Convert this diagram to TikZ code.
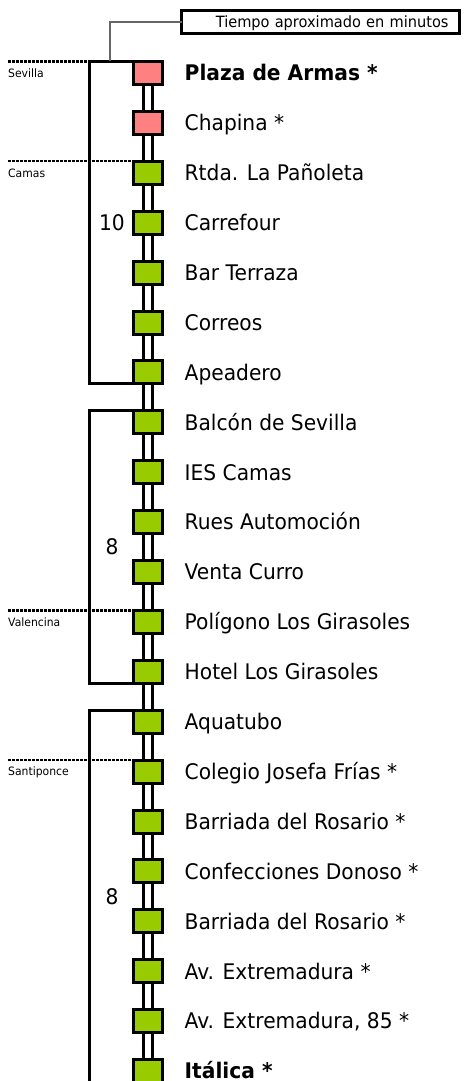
\documentclass[tikz,border=0pt]{standalone}
\usepackage{fontspec}
\setmainfont{DejaVu Sans}[FakeStretch=0.94]
\usepackage{tikz}
\usetikzlibrary{positioning}
\usetikzlibrary{backgrounds}
\definecolor{stopred}{HTML}{FF8080}
\definecolor{stopgreen}{HTML}{99CC00}

\begin{document}
\begin{tikzpicture}[x=1pt, y=-1pt,
        stopbox/.style={draw, line width=3pt, minimum width=29pt, minimum height=23pt, inner sep=0pt, outer sep=0pt},
        stopname/.style={font=\fontsize{21.5}{25}\selectfont, inner sep=0pt, text height=15.6pt, text depth=0pt},
        town/.style={font=\fontsize{11.5}{14}\selectfont, inner sep=0pt, text height=8.4pt, text depth=0pt, anchor=west},
        minutes/.style={font=\fontsize{21.5}{25}\selectfont, inner sep=0pt, text height=15.6pt, text depth=0pt},
        track/.style={line width=3pt, double=white, double distance=5.5pt},
        bracket/.style={line width=3pt},
        border/.style={line width=2.2pt, dash pattern=on 2.6pt off 1.4pt},
        leader/.style={line width=1.2pt, black!60}]

    \useasboundingbox (0,0) rectangle (463,1081);

    % Stops
    \foreach \stop [count=\i from 0] in {\textbf{Plaza de Armas *}, Chapina *, Rtda. La Pañoleta, Carrefour, Bar Terraza, Correos, Apeadero, Balcón de Sevilla, IES Camas, Rues Automoción, Venta Curro, Polígono Los Girasoles, Hotel Los Girasoles, Aquatubo, Colegio Josefa Frías *, Barriada del Rosario *, Confecciones Donoso *, Barriada del Rosario *, Av. Extremadura *, {Av. Extremadura, 85 *}, \textbf{Itálica *}} {
        \ifnum\i<2 \def\stopcol{stopred}\else \def\stopcol{stopgreen}\fi
        \node at (148,{73+49.9*\i}) (s\i) [stopbox, fill=\stopcol] {};
        \node [stopname, right=22pt of s\i] (n\i) {\stop};
    }

    % Track between stops
    \begin{pgfonlayer}{background}
        \foreach \i [evaluate=\i as \j using int(\i+1)] in {0,...,19}
            \draw[track] (s\i) -- (s\j);
    \end{pgfonlayer}

    % Towns
    \node at (8,73) (sevilla) [town] {Sevilla};
    \node at (8,172.8) (camas) [town] {Camas};
    \node at (8,621.9) (valencina) [town] {Valencina};
    \node at (8,771.6) (santiponce) [town] {Santiponce};
    \draw[border] (sevilla.west |- s0.north west) -- (s0.north west);
    \draw[border] (camas.west |- s2.north west) -- (s2.north west);
    \draw[border] (valencina.west |- s11.north west) -- (s11.north west);
    \draw[border] (santiponce.west |- s14.north west) -- (s14.north west);

    % Minutes
    \node at (112,222.7) (ten) [minutes] {10};
    \node at (112,547) (eightA) [minutes] {8};
    \node at (112,896.4) (eightB) [minutes] {8};
    \coordinate (rail) at (89,0);
    \draw[bracket] (s0.north west) -| (rail |- ten) |- (s6.south west);
    \draw[bracket] (s7.north west) -| (rail |- eightA) |- (s12.south west);
    \draw[bracket] (s13.north west) -| (rail |- eightB) |- (s20.south west);

    % Title box
    \node at (320.5,22) (title) [draw, line width=3pt, text width=256pt, inner xsep=11pt, inner ysep=0pt, outer sep=0pt, minimum height=23pt, align=right, text height=11.3pt, text depth=0pt, font=\fontsize{15.5}{18}\selectfont] {Tiempo aproximado en minutos};
    \coordinate (lead) at (110,61.5);
    \draw[leader] (title.west) -| (lead);

\end{tikzpicture}
\end{document}
